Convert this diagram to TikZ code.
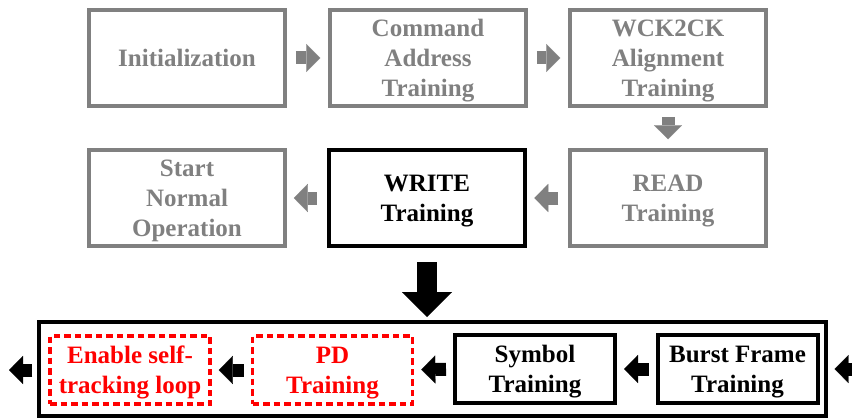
\documentclass[tikz,border=0pt]{standalone}
\usepackage{fontspec}
\setmainfont{Liberation Serif}
\usetikzlibrary{arrows.meta}
\definecolor{stepgray}{HTML}{808080}
\definecolor{stepred}{HTML}{FF0000}
\tikzset{
  every node/.style={font=\bfseries\fontsize{25}{30}\selectfont, align=center, inner sep=0pt, text depth=0pt},
  donebox/.style={draw=stepgray, text=stepgray, line width=3.5pt, minimum width=196pt, minimum height=96pt},
  curbox/.style={draw=black, line width=4.5pt, minimum width=196pt, minimum height=96pt},
  subbox/.style={draw=black, line width=4pt, minimum width=160pt, minimum height=68pt},
  newbox/.style={draw=stepred, text=stepred, line width=3.5pt, dash pattern=on 6.5pt off 4pt, minimum width=160pt, minimum height=68pt},
  grayarrow/.style={draw=stepgray, line width=13pt, -{Triangle[width=28pt,length=14pt,line width=0.1pt]}},
  blackarrow/.style={draw=black, line width=13pt, -{Triangle[width=28pt,length=14pt,line width=0.1pt]}},
  bigarrow/.style={draw=black, line width=20pt, -{Triangle[width=50pt,length=25pt,line width=0.1pt]}}
}
\begin{document}
\begin{tikzpicture}[x=1pt,y=-1pt]
\path[use as bounding box, clip] (0,0) rectangle (852,420);
% main training sequence
\node[donebox] (init) at (187,58) {Initialization};
\node[donebox] (cat) at (428,58) {Command\\Address\\Training};
\node[donebox] (wck) at (668,58) {WCK2CK\\Alignment\\Training};
\node[donebox] (rd) at (668,198) {READ\\Training};
\node[curbox] (wr) at (427,198) {WRITE\\Training};
\node[donebox] (normal) at (187,198) {Start\\Normal\\Operation};
\draw [grayarrow, shorten <=9pt, shorten >=8pt] (init) -- (cat);
\draw [grayarrow, shorten <=9pt, shorten >=8pt] (cat) -- (wck);
\draw [grayarrow, shorten <=9pt, shorten >=9pt] (wck) -- (rd);
\draw [grayarrow, shorten <=10pt, shorten >=7pt] (rd) -- (wr);
\draw [grayarrow, shorten <=10pt, shorten >=7pt] (wr) -- (normal);
% write training steps
\node[draw, line width=4pt, minimum width=787pt, minimum height=94pt] (wrsteps) at (432.5,369) {};
\node[subbox] (burst) at (737.5,369) {Burst Frame\\Training};
\node[subbox] (sym) at (535,369) {Symbol\\Training};
\node[newbox] (pd) at (332.5,370) {PD\\Training};
\node[newbox] (track) at (130,370) {Enable self-\\tracking loop};
\coordinate (entry) at (860,369);
\coordinate (exit) at (9,370);
\draw [bigarrow, shorten <=14pt, shorten >=3pt] (wr) -- (wr |- wrsteps.north);
\draw [blackarrow, shorten >=15pt] (entry) -- (burst);
\draw [blackarrow, shorten <=7pt, shorten >=7pt] (burst) -- (sym);
\draw [blackarrow, shorten <=7pt, shorten >=7pt] (sym) -- (pd);
\draw [blackarrow, shorten <=7pt, shorten >=7pt] (pd) -- (track);
\draw [blackarrow, shorten <=16pt] (track) -- (exit);
\end{tikzpicture}
\end{document}
